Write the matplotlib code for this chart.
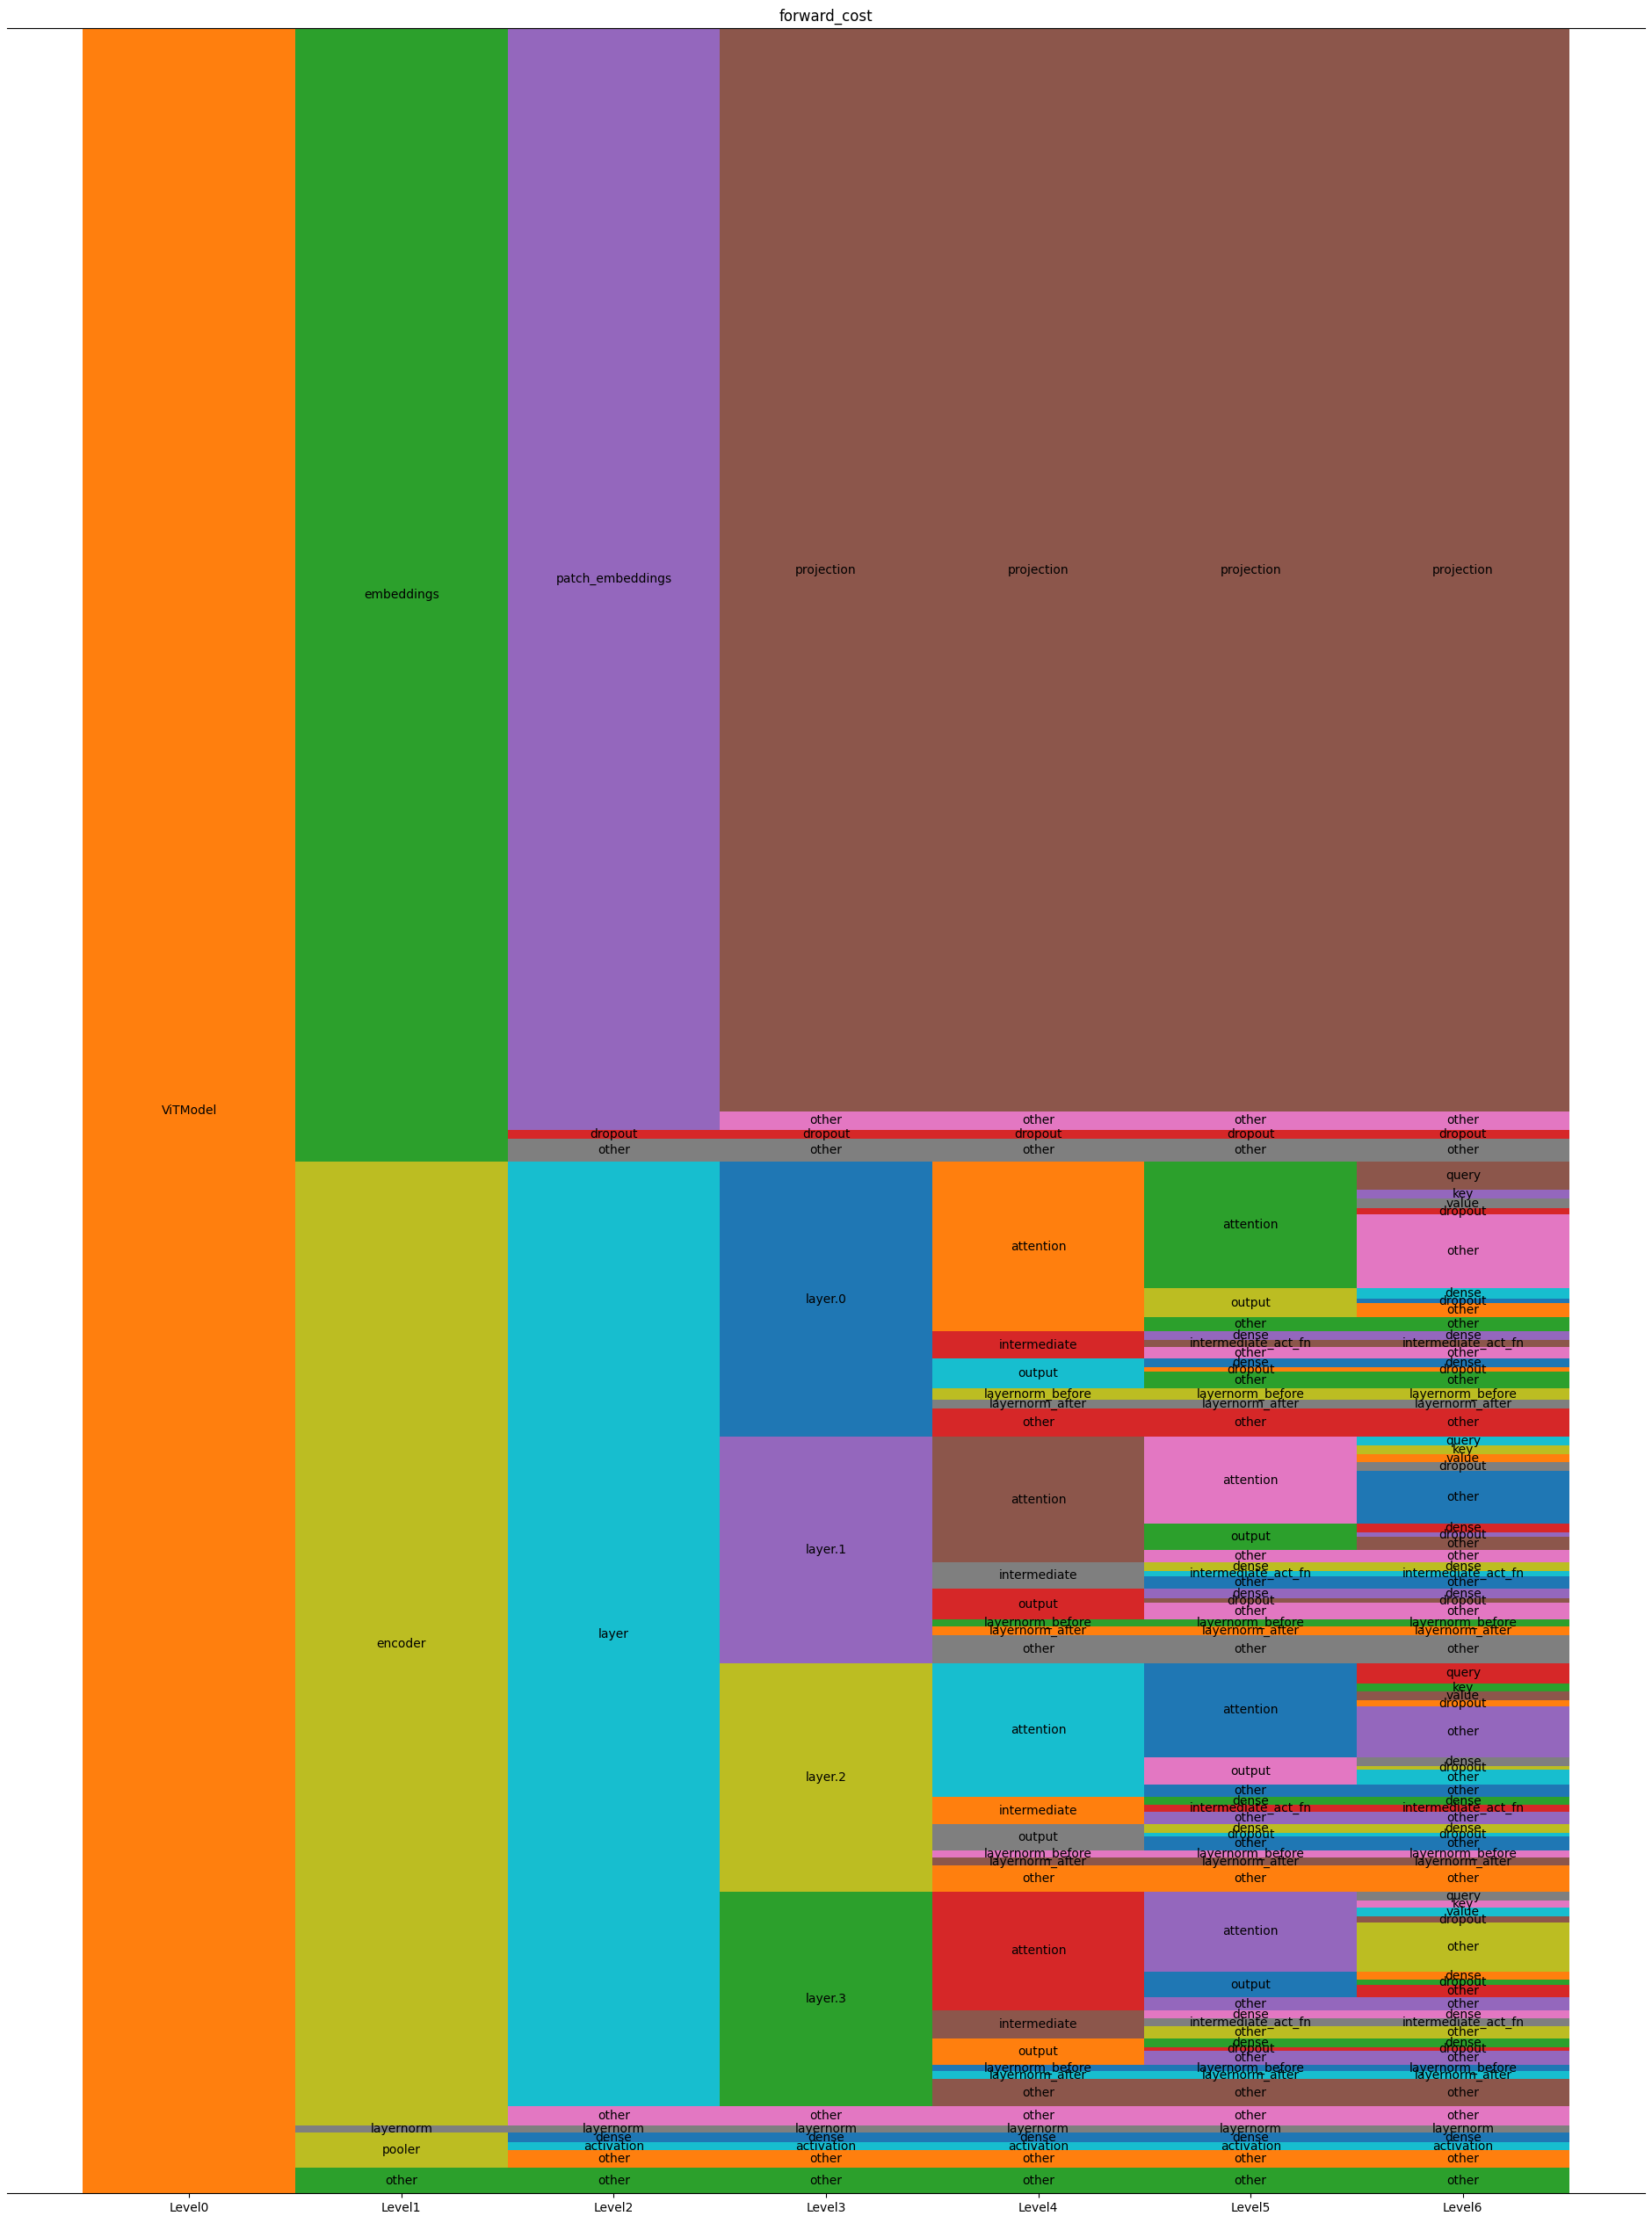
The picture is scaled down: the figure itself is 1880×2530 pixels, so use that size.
import matplotlib.pyplot as plt

levels = ["Level0", "Level1", "Level2", "Level3", "Level4", "Level5", "Level6"]

# leaves of the module tree (top to bottom), cost of each leaf
top_paths = ["embeddings/patch_embeddings/projection",
             "embeddings/patch_embeddings/other",
             "embeddings/dropout",
             "embeddings/other"]
top_cost = [1232.5, 21, 10, 26]

layer_parts = ["attention/attention/query", "attention/attention/key",
               "attention/attention/value", "attention/attention/dropout",
               "attention/attention/other",
               "attention/output/dense", "attention/output/dropout",
               "attention/output/other",
               "attention/other",
               "intermediate/dense", "intermediate/intermediate_act_fn",
               "intermediate/other",
               "output/dense", "output/dropout", "output/other",
               "layernorm_before", "layernorm_after", "other"]
layer0_cost = [32, 10, 11.3, 7, 83.7, 12.3, 5, 15.7, 16, 10, 8.3, 12.7, 10, 5, 19, 13.3, 10, 31.7]
layer1_cost = [10, 10, 9, 10, 60, 10, 5, 15, 14, 10, 6, 14, 11, 5, 19, 8, 10, 31.7]
layer2_cost = [23.3, 9, 10, 7, 58, 10, 4, 17, 14, 9, 8, 14, 10, 4, 16, 8, 9.3, 29.4]
layer3_cost = [10.3, 8, 10, 7, 56, 9, 6, 14, 15, 9, 9, 14, 10, 4, 16, 7, 9, 31]

tail_paths = ["encoder/other", "layernorm", "pooler/dense", "pooler/activation",
              "pooler/other", "other"]
tail_cost = [22, 8, 11, 9, 20, 29]

# colours of the nodes
node_colors = {
    "": "C1",
    "embeddings": "C2",
    "embeddings/patch_embeddings": "C4",
    "embeddings/patch_embeddings/projection": "C5",
    "embeddings/patch_embeddings/other": "C6",
    "embeddings/dropout": "C3",
    "embeddings/other": "C7",
    "encoder": "C8",
    "encoder/layer": "C9",
    "encoder/other": "C6",
    "layernorm": "C7",
    "pooler": "C8",
    "pooler/dense": "C0",
    "pooler/activation": "C9",
    "pooler/other": "C1",
    "other": "C2",
}
layer_colors = ["C0", "C4", "C8", "C2"]
l4_nodes = ["attention", "intermediate", "output", "layernorm_before",
            "layernorm_after", "other"]
l4_colors = [["C1", "C3", "C9", "C8", "C7", "C3"],
             ["C5", "C7", "C3", "C2", "C1", "C7"],
             ["C9", "C1", "C7", "C6", "C5", "C1"],
             ["C3", "C5", "C1", "C0", "C9", "C5"]]
l5_nodes = ["attention/attention", "attention/output", "attention/other",
            "intermediate/dense", "intermediate/intermediate_act_fn",
            "intermediate/other", "output/dense", "output/dropout", "output/other"]
l5_colors = [["C2", "C8", "C2", "C4", "C5", "C6", "C0", "C1", "C2"],
             ["C6", "C2", "C6", "C8", "C9", "C0", "C4", "C5", "C6"],
             ["C0", "C6", "C0", "C2", "C3", "C4", "C8", "C9", "C0"],
             ["C4", "C0", "C4", "C6", "C7", "C8", "C2", "C3", "C4"]]
l6_nodes = layer_parts[:8]
l6_colors = [["C5", "C4", "C7", "C3", "C6", "C9", "C0", "C1"],
             ["C9", "C8", "C1", "C7", "C0", "C3", "C4", "C5"],
             ["C3", "C2", "C5", "C1", "C4", "C7", "C8", "C9"],
             ["C7", "C6", "C9", "C5", "C8", "C1", "C2", "C3"]]

paths = list(top_paths)
costs = list(top_cost)
for i, lc in enumerate([layer0_cost, layer1_cost, layer2_cost, layer3_cost]):
    pre = "encoder/layer/layer.%d" % i
    paths += [pre + "/" + p for p in layer_parts]
    costs += lc
    node_colors[pre] = layer_colors[i]
    for n, c in zip(l4_nodes, l4_colors[i]):
        node_colors[pre + "/" + n] = c
    for n, c in zip(l5_nodes, l5_colors[i]):
        node_colors[pre + "/" + n] = c
    for n, c in zip(l6_nodes, l6_colors[i]):
        node_colors[pre + "/" + n] = c
paths += tail_paths
costs += tail_cost

total = sum(costs)

fig = plt.figure(figsize=(18.8, 25.3), dpi=100)
ax = fig.add_axes([0.0043, 0.0134, 0.9914, 0.9738])

for lvl in range(len(levels)):
    cum = 0
    groups = []
    for p, c in zip(paths, costs):
        parts = p.split("/")
        key = "/".join(parts[:lvl]) if lvl <= len(parts) else p
        if groups and groups[-1][0] == key:
            groups[-1][1] += c
        else:
            groups.append([key, c])
    for key, h in groups:
        y = total - cum - h
        ax.bar(lvl, h, bottom=y, width=1, color=node_colors[key], linewidth=0)
        label = key.split("/")[-1] if key else "ViTModel"
        ax.text(lvl, y + h / 2, label, ha="center", va="center", fontsize=10)
        cum += h

ax.set_xlim(-0.857, 6.857)
ax.set_ylim(0, total)
ax.set_xticks(range(len(levels)))
ax.set_xticklabels(levels)
ax.set_yticks([])
ax.spines["left"].set_visible(False)
ax.spines["right"].set_visible(False)
ax.set_title("forward_cost")

fig.savefig("out.png")
